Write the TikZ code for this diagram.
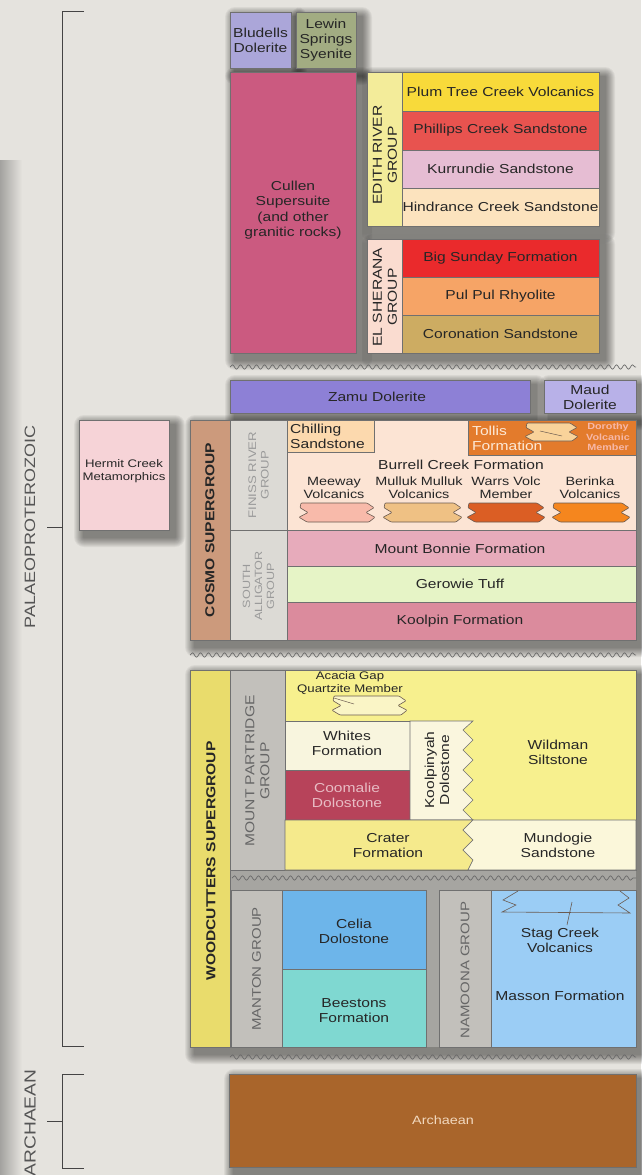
\documentclass[tikz,border=0pt]{standalone}
\usepackage{fontspec}
\setmainfont[FakeStretch=1.2]{Liberation Sans}
\usetikzlibrary{decorations.pathmorphing}
\definecolor{bgc}{HTML}{E5E3DE}
\definecolor{edgec}{HTML}{A3A29F}
\definecolor{ink}{HTML}{262626}
\definecolor{boxline}{HTML}{707070}
\definecolor{lensline}{HTML}{6A5A50}
\definecolor{wavec}{HTML}{6A6A6A}
\definecolor{brkc}{HTML}{444444}
\definecolor{cBlu}{HTML}{ABA6D9}
\definecolor{cLew}{HTML}{A2AC82}
\definecolor{cCul}{HTML}{CB5A80}
\definecolor{cEdL}{HTML}{F3EC9A}
\definecolor{cPlum}{HTML}{F8DA3A}
\definecolor{cPhil}{HTML}{E8534F}
\definecolor{cKur}{HTML}{E6BDD3}
\definecolor{cHin}{HTML}{FCE3BE}
\definecolor{cElL}{HTML}{FADCD0}
\definecolor{cBig}{HTML}{EA2A2C}
\definecolor{cPul}{HTML}{F6A466}
\definecolor{cCor}{HTML}{CDAC62}
\definecolor{cZam}{HTML}{8D80D6}
\definecolor{cMau}{HTML}{B8B1E8}
\definecolor{cCos}{HTML}{CC9A7C}
\definecolor{cLab}{HTML}{DCDAD5}
\definecolor{cLabD}{HTML}{C2C0BB}
\definecolor{cFin}{HTML}{FCE4D4}
\definecolor{cChi}{HTML}{FCD9AE}
\definecolor{cTol}{HTML}{E37B2C}
\definecolor{cTolL}{HTML}{F9D39A}
\definecolor{cL1}{HTML}{F8BAAA}
\definecolor{cL2}{HTML}{EFC184}
\definecolor{cL3}{HTML}{DB5E24}
\definecolor{cL4}{HTML}{F5861E}
\definecolor{cMB}{HTML}{E7ABBB}
\definecolor{cGer}{HTML}{E6F4C6}
\definecolor{cKoo}{HTML}{DB8B9D}
\definecolor{cHer}{HTML}{F6D3D7}
\definecolor{cWoo}{HTML}{E9DC6C}
\definecolor{cWil}{HTML}{F7F08E}
\definecolor{cAca}{HTML}{FAF5C6}
\definecolor{cWhi}{HTML}{F8F5DE}
\definecolor{cCoo}{HTML}{B7435A}
\definecolor{cKpy}{HTML}{FAF6DE}
\definecolor{cCra}{HTML}{F5EA8C}
\definecolor{cMun}{HTML}{FBF7DA}
\definecolor{cGrey}{HTML}{A6A5A1}
\definecolor{cCel}{HTML}{6DB5EA}
\definecolor{cBee}{HTML}{7FD8D1}
\definecolor{cMas}{HTML}{9BCDF5}
\definecolor{cArc}{HTML}{A9652B}
\definecolor{cArcT}{HTML}{F2D9BF}
\definecolor{cCooT}{HTML}{E8BCC4}
\definecolor{cTolT}{HTML}{FDE9D6}
\definecolor{cDorT}{HTML}{F7B8A8}
\definecolor{cGrpT}{HTML}{9A9A9A}
\definecolor{cGrpD}{HTML}{666666}
\definecolor{cEra}{HTML}{555555}
\newcommand\szM{\fontsize{13}{15}\selectfont}
\newcommand\szB{\fontsize{12}{13}\selectfont}
\newcommand\szS{\fontsize{11}{12.5}\selectfont}
\newcommand\szT{\fontsize{9}{10.5}\selectfont}
\newcommand\szG{\fontsize{10.5}{12}\selectfont}
\newcommand\szL{\fontsize{15}{17}\selectfont}
\newcommand\szXL{\fontsize{16}{18}\selectfont}
\newcommand\softshadow[4]{\foreach \k in {1,...,10}{\fill[black,opacity=0.05,rounded corners=\k pt] ({#1+5-\k},{#2+5-\k}) rectangle ({#3+6+\k},{#4+7+\k});}}
\newcommand\mylens[5]{\filldraw[fill=#5, draw=lensline, line width=0.6pt, rounded corners=0.8pt] ({#1+2},#2) -- ({#3-8},#2) -- ({#3-1},{#2+0.25*(#4-#2)}) -- ({#3-9},{#2+0.5*(#4-#2)}) -- (#3,{#2+0.75*(#4-#2)}) -- ({#3-6},#4) -- ({#1+8},#4) -- (#1,{#2+0.75*(#4-#2)}) -- ({#1+9},{#2+0.5*(#4-#2)}) -- ({#1+1},{#2+0.25*(#4-#2)}) -- cycle;}
\tikzset{
  box/.style={draw=boxline, line width=0.6pt},
  lbl/.style={font=\szM, text=ink, align=center, inner sep=0pt},
  sub/.style={font=\szB, text=ink, align=center, inner sep=0pt},
  grp/.style={font=\szM, text=ink, align=center, inner sep=0pt, rotate=90},
  grpl/.style={font=\szG, text=cGrpT, align=center, inner sep=0pt, rotate=90},
  grpd/.style={font=\szM, text=cGrpD, align=center, inner sep=0pt, rotate=90},
  sgp/.style={font=\szM\bfseries, text=ink, inner sep=0pt, rotate=90},
  era/.style={font=\szL, text=cEra, inner sep=0pt, rotate=90},
  brk/.style={draw=brkc, line width=1pt},
  wavy/.style={draw=wavec, line width=0.7pt, decorate, decoration={snake, segment length=8pt, amplitude=2.2pt}},
}
\begin{document}
\begin{tikzpicture}[x=1pt,y=-1pt]
\useasboundingbox (0,0) rectangle (641,1175);
\fill[bgc] (0,0) rectangle (641,1175);
\shade[left color=edgec, right color=bgc] (0,160) rectangle (22,1175);

% ---------- era brackets ----------
\draw[brk] (84,11) -- (62,11) -- (62,1046) -- (84,1046);
\draw[brk] (47,527) -- (62,527);
\node[era] (palaeo) at (30,527) {PALAEOPROTEROZOIC};
\draw[brk] (84,1074) -- (62,1074) -- (62,1168) -- (84,1168);
\draw[brk] (47,1121) -- (62,1121);
\node[era, font=\szXL] (archera) at (30,1123) {ARCHAEAN};

% ---------- shadows ----------
\softshadow{230}{12}{291}{68}
\softshadow{296}{12}{356}{68}
\softshadow{230}{72}{356}{353}
\softshadow{367}{72}{599}{226}
\softshadow{367}{239}{599}{353}
\softshadow{230}{380}{530}{413}
\softshadow{544}{380}{636}{413}
\softshadow{79}{420}{169}{530}
\softshadow{190}{420}{636}{640}
\softshadow{190}{670}{636}{1047}
\softshadow{229}{1074}{636}{1167}

% ---------- top intrusives ----------
\draw[box, fill=cBlu] (230,12) rectangle (291,68);
\node[lbl] (bludells) at (260.5,40) {Bludells\\Dolerite};
\draw[box, fill=cLew] (296,12) rectangle (356,68);
\node[lbl] (lewin) at (326,40) {Lewin\\Springs\\Syenite};
\draw[box, fill=cCul] (230,72) rectangle (356,353);
\node[lbl, font=\fontsize{13}{15.5}\selectfont] (cullen) at (293,210) {Cullen\\Supersuite\\(and other\\granitic rocks)};

% ---------- Edith River Group ----------
\draw[box, fill=cEdL] (367,72) rectangle (402,226);
\draw[box, fill=cPlum] (402,72) rectangle (599,111);
\draw[box, fill=cPhil] (402,111) rectangle (599,150);
\draw[box, fill=cKur] (402,150) rectangle (599,188);
\draw[box, fill=cHin] (402,188) rectangle (599,226);
\node[grp] (edith) at (385,155) {EDITH RIVER\\GROUP};
\node[lbl] (plum) at (500.5,91.5) {Plum Tree Creek Volcanics};
\node[lbl] (phillips) at (500.5,130.5) {Phillips Creek Sandstone};
\node[lbl] (kurrundie) at (500.5,169) {Kurrundie Sandstone};
\node[lbl] (hindrance) at (500.5,207) {Hindrance Creek Sandstone};

% ---------- El Sherana Group ----------
\draw[box, fill=cElL] (367,239) rectangle (402,353);
\draw[box, fill=cBig] (402,239) rectangle (599,277);
\draw[box, fill=cPul] (402,277) rectangle (599,315);
\draw[box, fill=cCor] (402,315) rectangle (599,353);
\node[grp] (elsherana) at (385,297) {EL SHERANA\\GROUP};
\node[lbl] (bigsunday) at (500.5,258) {Big Sunday Formation};
\node[lbl] (pulpul) at (500.5,296) {Pul Pul Rhyolite};
\node[lbl] (coronation) at (500.5,334) {Coronation Sandstone};

\draw[wavy] (230,367) -- (636,367);

% ---------- dolerites ----------
\draw[box, fill=cZam] (230,380) rectangle (530,413);
\node[lbl] (zamu) at (377,397) {Zamu Dolerite};
\draw[box, fill=cMau] (544,380) rectangle (636,413);
\node[lbl] (maud) at (590,397) {Maud\\Dolerite};

% ---------- Hermit Creek ----------
\draw[box, fill=cHer] (79,420) rectangle (169,530);
\node[lbl, font=\fontsize{11}{13}\selectfont] (hermit) at (124,471) {Hermit Creek\\Metamorphics};

% ---------- Cosmo Supergroup ----------
\draw[box, fill=cCos] (190,420) rectangle (230,640);
\node[sgp] (cosmo) at (210,530) {COSMO SUPERGROUP};
\draw[box, fill=cLab] (230,420) rectangle (287,530);
\draw[box, fill=cLab] (230,530) rectangle (287,640);
\node[grpl, font=\fontsize{11}{12.5}\selectfont] (finiss) at (258.5,475) {FINISS RIVER\\GROUP};
\node[grpl] (salligator) at (258.5,586) {SOUTH\\ALLIGATOR\\GROUP};
% Finiss River panel
\draw[box, fill=cFin] (287,420) rectangle (636,530);
\draw[box, fill=cChi] (287,420) rectangle (374,452);
\node[lbl, align=left, anchor=west] (chilling) at (290,436) {Chilling\\Sandstone};
\draw[box, fill=cTol] (468,420) rectangle (636,455);
\mylens{525}{423}{578}{441}{cTolL}
\draw[lensline, line width=0.5pt] (540,431) -- (562,436);
\node[lbl, align=left, anchor=west, text=cTolT] (tollis) at (472,438) {Tollis\\Formation};
\node[lbl, font=\szT\bfseries, text=cDorT] (dorothy) at (608,437) {Dorothy\\Volcanic\\Member};
\node[lbl] (burrell) at (461,465) {Burrell Creek Formation};
\node[sub] (meeway) at (334,488) {Meeway\\Volcanics};
\node[sub] (mulluk) at (419,488) {Mulluk Mulluk\\Volcanics};
\node[sub] (warrs) at (506,488) {Warrs Volc\\Member};
\node[sub] (berinka) at (590,488) {Berinka\\Volcanics};
\mylens{299}{503}{375}{522}{cL1}
\mylens{383}{503}{462}{522}{cL2}
\mylens{467}{503}{545}{522}{cL3}
\mylens{552}{503}{630}{522}{cL4}
% South Alligator panel
\draw[box, fill=cMB] (287,530) rectangle (636,566);
\draw[box, fill=cGer] (287,566) rectangle (636,602);
\draw[box, fill=cKoo] (287,602) rectangle (636,640);
\node[lbl] (bonnie) at (460,549) {Mount Bonnie Formation};
\node[lbl] (gerowie) at (460,584) {Gerowie Tuff};
\node[lbl] (koolpin) at (460,621) {Koolpin Formation};

\draw[wavy] (190,655) -- (636,655);

% ---------- Woodcutters Supergroup ----------
\fill[cGrey] (230,870) rectangle (636,1047);
\draw[box, fill=cWoo] (190,670) rectangle (230,1047);
\node[sgp] (woodcutters) at (211,861) {WOODCUTTERS SUPERGROUP};
\draw[box, fill=cLabD] (230,670) rectangle (285,870);
\node[grpd] (mtpartridge) at (257.5,771) {MOUNT PARTRIDGE\\GROUP};
% Mount Partridge panel
\draw[box, fill=cWil] (285,670) rectangle (636,870);
\node[lbl, font=\szS] (acacia) at (350,683) {Acacia Gap\\Quartzite Member};
\mylens{332}{696}{407}{715}{cAca}
\draw[lensline, line width=0.5pt] (334,698) -- (354,704);
\draw[box, fill=cWhi] (285,721) rectangle (410,770);
\draw[box, fill=cCoo] (285,770) rectangle (410,820);
\filldraw[box, fill=cKpy] (410,721) -- (473,721) -- (463,730) -- (473,740) -- (463,750) -- (473,760) -- (463,770) -- (473,780) -- (463,790) -- (473,800) -- (463,810) -- (473,820) -- (410,820) -- cycle;
\filldraw[box, fill=cCra] (285,820) -- (473,820) -- (463,830) -- (473,840) -- (463,850) -- (473,860) -- (468,870) -- (285,870) -- cycle;
\filldraw[box, fill=cMun] (473,820) -- (636,820) -- (636,870) -- (468,870) -- (473,860) -- (463,850) -- (473,840) -- (463,830) -- cycle;
\node[lbl] (whites) at (347,743.5) {Whites\\Formation};
\node[lbl, text=cCooT] (coomalie) at (347,795.5) {Coomalie\\Dolostone};
\node[grp] (koolpinyah) at (437,770) {Koolpinyah\\Dolostone};
\node[lbl] (wildman) at (558,752) {Wildman\\Siltstone};
\node[lbl] (crater) at (388,845.5) {Crater\\Formation};
\node[lbl] (mundogie) at (558,845.5) {Mundogie\\Sandstone};

\draw[wavy] (232,878) -- (636,878);

% Manton Group
\draw[box, fill=cLabD] (231,890) rectangle (282,1047);
\node[grpd, font=\fontsize{12.5}{14}\selectfont] (manton) at (256.5,969) {MANTON GROUP};
\draw[box, fill=cCel] (282,890) rectangle (426,969);
\draw[box, fill=cBee] (282,969) rectangle (426,1047);
\node[lbl] (celia) at (354,931) {Celia\\Dolostone};
\node[lbl] (beestons) at (354,1010.5) {Beestons\\Formation};
% Namoona Group
\draw[box, fill=cLabD] (439,890) rectangle (491,1047);
\node[grpd, font=\fontsize{12.5}{14}\selectfont] (namoona) at (465,970) {NAMOONA GROUP};
\draw[box, fill=cMas] (491,890) rectangle (636,1047);
\draw[lensline, line width=0.6pt] (518,891) -- (503,900) -- (516,905) -- (502,912) -- (630,913) -- (618,905) -- (629,898) -- (620,891);
\draw[lensline, line width=0.6pt] (572,902) -- (567,925);
\node[lbl] (stag) at (560,940.5) {Stag Creek\\Volcanics};
\node[lbl] (masson) at (560,996) {Masson Formation};

\draw[wavy] (230,1057) -- (636,1057);

% ---------- Archaean ----------
\draw[box, fill=cArc] (229,1074) rectangle (636,1167);
\node[lbl, font=\fontsize{12}{14}\selectfont, text=cArcT] (archaean) at (443,1120) {Archaean};
\end{tikzpicture}
\end{document}
